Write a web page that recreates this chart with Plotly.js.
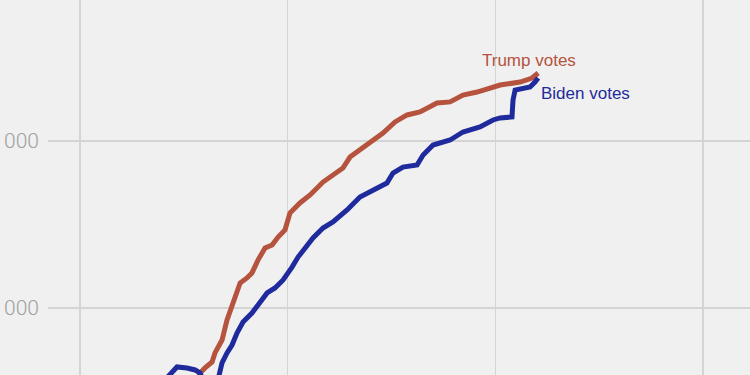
<!DOCTYPE html>
<html>
<head>
<meta charset="utf-8">
<script src="https://cdn.plot.ly/plotly-3.0.1.min.js"></script>
<style>html,body{margin:0;padding:0;background:#f0f0f0;}#chart{width:750px;height:375px;}</style>
</head>
<body>
<div id="chart"></div>
<script>
// Reporting progress (x) and cumulative votes in thousands (y)
const trumpX = [1.554,1.568,1.578,1.602,1.636,1.650,1.684,1.708,1.732,1.756,1.771,1.804,1.828,1.857,1.891,1.925,1.954,1.987,2.011,2.059,2.108,2.170,2.218,2.266,2.300,2.348,2.397,2.459,2.517,2.575,2.637,2.719,2.782,2.844,2.912,2.974,3.023,3.119,3.177,3.206];
const trumpY = [509,587,611,641,677,731,808,928,1006,1090,1150,1180,1210,1287,1359,1377,1425,1467,1569,1629,1677,1754,1796,1838,1904,1946,1994,2048,2114,2156,2174,2228,2234,2275,2293,2317,2335,2353,2377,2407];

const bidenX = [1.409,1.443,1.467,1.515,1.554,1.578,1.592,1.616,1.650,1.669,1.684,1.708,1.732,1.756,1.785,1.828,1.867,1.901,1.939,1.978,2.021,2.050,2.122,2.170,2.218,2.286,2.348,2.430,2.478,2.507,2.555,2.623,2.652,2.700,2.782,2.844,2.926,2.989,3.023,3.080,3.085,3.095,3.167,3.191,3.206];
const bidenY = [569,617,647,641,629,611,569,497,497,581,671,731,778,850,916,970,1036,1090,1120,1168,1245,1305,1419,1479,1515,1587,1665,1719,1748,1808,1844,1856,1916,1976,2006,2054,2084,2126,2138,2144,2245,2305,2323,2353,2377];

const xTicks = [1, 2, 3, 4];
const yTicks = [1000, 2000];
const yTickText = ["000", "000"];
const labels = [
  {text: "Trump votes", x: 2.927, y: 2485},
  {text: "Biden votes", x: 3.211, y: 2287}
];
const trumpColor = "#b5533e";
const bidenColor = "#1f2b9c";

const traces = [
  {x: trumpX, y: trumpY, type: "scatter", mode: "lines", name: "Trump votes",
   line: {color: trumpColor, width: 5, shape: "linear"}, hoverinfo: "skip"},
  {x: bidenX, y: bidenY, type: "scatter", mode: "lines", name: "Biden votes",
   line: {color: bidenColor, width: 5, shape: "linear"}, hoverinfo: "skip"}
];

const layout = {
  width: 750, height: 375,
  margin: {l: 48, r: 0, t: 0, b: 0, pad: 0},
  paper_bgcolor: "#f0f0f0",
  plot_bgcolor: "#f0f0f0",
  showlegend: false,
  xaxis: {range: [0.846, 4.226], tickvals: xTicks, showticklabels: false,
          showgrid: true, gridcolor: "#d4d4d4", gridwidth: 1.5, zeroline: false,
          showline: false, ticks: "", fixedrange: true},
  yaxis: {range: [598.8, 2844.3], tickvals: yTicks, ticktext: yTickText,
          showgrid: true, gridcolor: "#d4d4d4", gridwidth: 1.5, zeroline: false,
          showline: false, ticks: "", ticklabelstandoff: 8,
          tickfont: {family: "Roboto, sans-serif", size: 21, color: "#a0a0a0", weight: 300},
          fixedrange: true},
  annotations: [
    {x: labels[0].x, y: labels[0].y, text: labels[0].text, showarrow: false,
     xanchor: "left", yanchor: "middle",
     font: {family: "Liberation Sans, Arial, sans-serif", size: 17, color: trumpColor}},
    {x: labels[1].x, y: labels[1].y, text: labels[1].text, showarrow: false,
     xanchor: "left", yanchor: "middle",
     font: {family: "Liberation Sans, Arial, sans-serif", size: 17, color: bidenColor}}
  ]
};

Plotly.newPlot("chart", traces, layout, {displayModeBar: false, staticPlot: true});
</script>
</body>
</html>
